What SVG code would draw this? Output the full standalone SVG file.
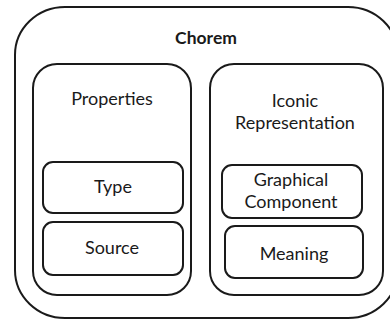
<svg xmlns="http://www.w3.org/2000/svg" width="390" height="322" viewBox="0 0 390 322">
  <style>
    .box { fill: #ffffff; stroke: #1a1a1a; stroke-width: 2; }
    .lbl { font-family: Lato, "Open Sans", sans-serif; font-size: 18px; fill: #1a1a1a; text-anchor: middle; }
    .title { font-weight: bold; font-size: 17.5px; }
  </style>
  <rect width="390" height="322" fill="#ffffff"/>

  <!-- outer container -->
  <g id="chorem">
    <rect class="box" x="15" y="7" width="383" height="311" rx="50" ry="48"/>
    <text class="lbl title" x="206" y="44">Chorem</text>
  </g>

  <!-- left column -->
  <g id="properties">
    <rect class="box" x="33" y="64" width="158" height="231" rx="24"/>
    <text class="lbl" x="112" y="105">Properties</text>
  </g>
  <g id="type">
    <rect class="box" x="43" y="162" width="140" height="51" rx="10"/>
    <text class="lbl" x="113" y="193">Type</text>
  </g>
  <g id="source">
    <rect class="box" x="43" y="222" width="140" height="53" rx="10"/>
    <text class="lbl" x="112" y="254">Source</text>
  </g>

  <!-- right column -->
  <g id="iconic-representation">
    <rect class="box" x="210" y="64" width="173" height="231" rx="24"/>
    <text class="lbl" x="295" y="107">Iconic</text>
    <text class="lbl" x="295" y="129">Representation</text>
  </g>
  <g id="graphical-component">
    <rect class="box" x="222" y="165" width="140" height="53" rx="10"/>
    <text class="lbl" x="291" y="186">Graphical</text>
    <text class="lbl" x="291" y="208">Component</text>
  </g>
  <g id="meaning">
    <rect class="box" x="225" y="226" width="138" height="52" rx="10"/>
    <text class="lbl" x="294" y="260">Meaning</text>
  </g>

  <g id="connectors"/>
</svg>
